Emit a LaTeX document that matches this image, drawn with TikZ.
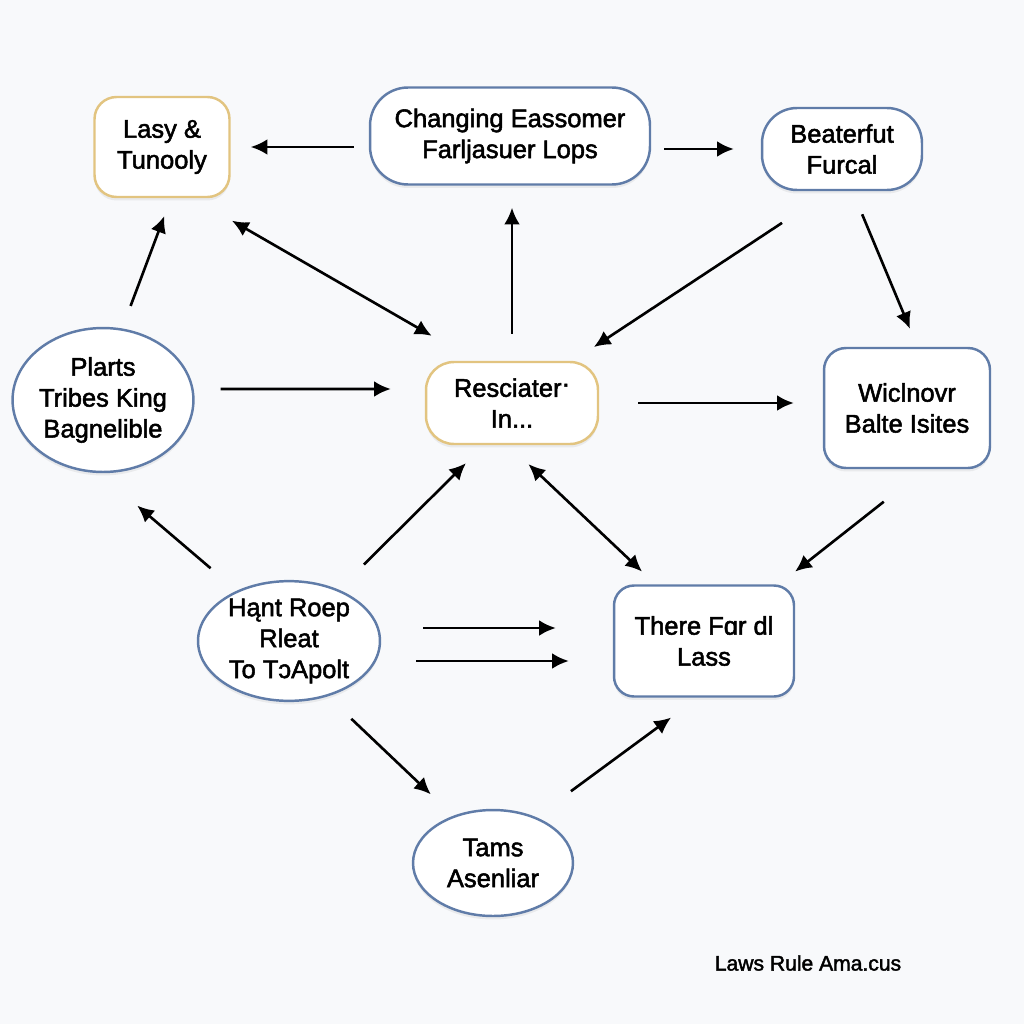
\documentclass[tikz,border=0pt]{standalone}
\usepackage{fontspec}
\setmainfont{Liberation Sans}
\newfontfamily\medfont{Liberation Sans}[FakeBold=2]
\usepackage{tikz}
\usetikzlibrary{calc, arrows.meta, shapes.geometric, shadows}
\definecolor{boxblue}{RGB}{96,124,168}
\definecolor{boxgold}{RGB}{226,196,128}
\definecolor{paper}{RGB}{248,249,251}
\tikzset{
  box/.style={draw=boxblue, line width=1.4pt, fill=white, align=center, inner sep=0pt,
    font=\medfont\fontsize{14.5}{17.6}\selectfont,
    drop shadow={opacity=0.12, shadow xshift=0pt, shadow yshift=-0.07cm}},
  goldbox/.style={box, draw=boxgold},
  oval/.style={box, ellipse},
  conn/.style={line width=1.5pt, -{Latex[length=9.5pt,width=9pt]}},
  dconn/.style={line width=1.5pt, {Latex[length=9.5pt,width=9pt]}-{Latex[length=9.5pt,width=9pt]}},
}

\begin{document}
\begin{tikzpicture}[x=0.02cm, y=-0.02cm]
        \fill[paper] (0,0) rectangle (1024,1024);
        \useasboundingbox (0,0) rectangle (1024,1024);

        % top row
        \node[goldbox, rounded corners=0.44cm, minimum width=2.7cm, minimum height=2.0cm] (lasy) at (162,147) {Lasy \&\\Tunooly};
        \node[box, rounded corners=0.76cm, minimum width=5.6cm, minimum height=1.94cm] (chg) at (510,136) {Changing Eassomer\\Farljasuer Lops};
        \node[box, rounded corners=0.7cm, minimum width=3.2cm, minimum height=1.64cm] (beat) at (842,149) {Beaterfut\\Furcal};

        % middle row
        \node[oval, minimum width=3.54cm, minimum height=2.88cm] (plarts) at (103,400) {Plarts\\Tribes King\\Bagnelible};
        \node[goldbox, rounded corners=0.56cm, minimum width=3.44cm, minimum height=1.64cm] (res) at (512,403) {Resciater\raisebox{0.35ex}{·}\\In...};
        \node[box, rounded corners=0.44cm, minimum width=3.32cm, minimum height=2.4cm] (wic) at (907,408) {Wiclnovr\\Balte Isites};

        % lower rows
        \node[oval, minimum width=3.64cm, minimum height=2.36cm] (hant) at (289,641) {Hąnt Roep\\Rleat\\To TɔApolt};
        \node[box, rounded corners=0.4cm, minimum width=3.6cm, minimum height=2.22cm] (there) at (704,641) {There Fɑr dl\\Lass};
        \node[oval, minimum width=3.2cm, minimum height=2.12cm] (tams) at (493,863) {Tams\\Asenliar};

        \node[font=\medfont\fontsize{12}{14}\selectfont] (cap) at (808,963) {Laws Rule Ama.cus};

        % connectors
        \draw[conn, shorten <=0.3cm, shorten >=0.4cm] (chg.west |- lasy) -- (lasy.east);
        \draw[conn, shorten <=0.26cm, shorten >=0.54cm] (chg.east |- beat) -- (beat.west);
        \draw[conn, shorten <=0.48cm, shorten >=0.38cm] (plarts.75) -- (lasy.-80);
        \draw[dconn, shorten <=0.9cm, shorten >=1.0cm] ([xshift=0.62cm]lasy.south) -- ([xshift=-0.74cm]res.north);
        \draw[conn, shorten <=0.54cm, shorten >=0.44cm] (res.north) -- (res.north |- chg.south);
        \draw[conn, shorten <=1.15cm, shorten >=0.5cm] ([xshift=-0.24cm]beat.south) -- ([xshift=1.22cm]res.north);
        \draw[conn, shorten <=0.5cm, shorten >=0.39cm] ([xshift=0.21cm]beat.south) -- ([xshift=0.21cm]wic.north);
        \draw[conn, shorten <=0.52cm, shorten >=0.68cm] ([yshift=0.22cm]plarts.east) -- ([yshift=0.28cm]res.west);
        \draw[conn, shorten <=0.78cm, shorten >=0.58cm] (res.east) -- (res.east -| wic.west);
        \draw[conn, shorten <=0.69cm, shorten >=1.0cm] (hant.136) -- (plarts.267);
        \draw[conn, shorten <=0.71cm, shorten >=0.51cm] (hant.46) -- ([xshift=-0.56cm]res.south);
        \draw[dconn, shorten <=0.55cm, shorten >=0.37cm] ([xshift=-0.07cm]res.south) -- ([xshift=-0.97cm]there.north);
        \draw[conn, shorten <=1.05cm, shorten >=0.41cm] ([xshift=0.36cm]wic.south) -- ([xshift=1.5cm]there.north);
        \draw[conn, shorten <=0.84cm, shorten >=1.14cm] ([yshift=0.26cm]hant.east) -- ([yshift=0.26cm]there.west);
        \draw[conn, shorten <=0.7cm, shorten >=0.88cm] ([yshift=-0.4cm]hant.east) -- ([yshift=-0.4cm]there.west);
        \draw[conn, shorten <=0.65cm, shorten >=0.62cm] (hant.-55) -- (tams.130);
        \draw[conn, shorten <=0.87cm, shorten >=0.67cm] (tams.47) -- ([xshift=-0.12cm]there.south);
\end{tikzpicture}
\end{document}
